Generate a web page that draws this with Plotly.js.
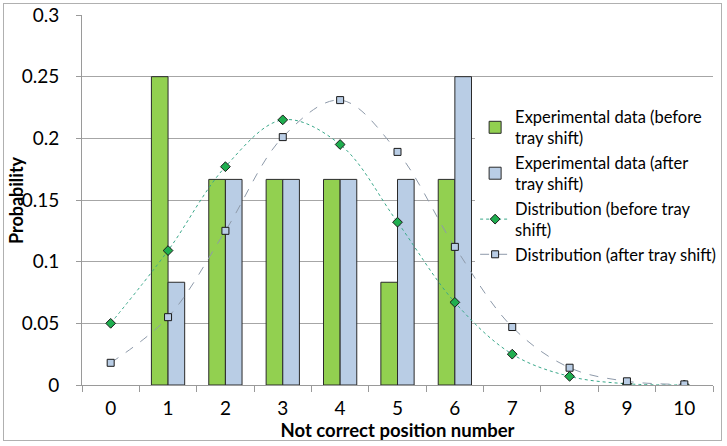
<!DOCTYPE html>
<html>
<head>
<meta charset="utf-8">
<script src="https://cdn.plot.ly/plotly-3.0.1.min.js"></script>
<style>
html,body{margin:0;padding:0;background:#fff;}
#wrap{position:absolute;left:3px;top:3px;width:719px;height:438px;border:1.5px solid #b0b0b0;box-sizing:border-box;}
#chart{position:absolute;left:0;top:0;width:727px;height:446px;}
</style>
</head>
<body>
<div id="wrap"></div>
<div id="chart"></div>
<script>
var categories = ['0','1','2','3','4','5','6','7','8','9','10'];
var expBefore = [0, 0.25, 0.1667, 0.1667, 0.1667, 0.0833, 0.1667, 0, 0, 0, 0];
var expAfter  = [0, 0.0833, 0.1667, 0.1667, 0.1667, 0.1667, 0.25, 0, 0, 0, 0];
var distBefore = [0.050, 0.109, 0.177, 0.215, 0.195, 0.132, 0.067, 0.025, 0.007, 0.001, 0.0001];
var distAfter  = [0.018, 0.055, 0.125, 0.201, 0.231, 0.189, 0.112, 0.047, 0.014, 0.003, 0.0005];
var seriesNames = ['Experimental data (before<br>tray shift)', 'Experimental data (after<br>tray shift)', 'Distribution (before tray<br>shift)', 'Distribution (after tray shift)'];
var xTitle = 'Not correct position number';
var yTitle = 'Probability';

function hideZero(arr){ return arr.map(function(v){ return v === 0 ? null : v; }); }

var traces = [
  {type:'bar', x:categories, y:hideZero(expBefore), name:seriesNames[0],
   marker:{color:'#92d050', line:{color:'#2a2a2a', width:1}}},
  {type:'bar', x:categories, y:hideZero(expAfter), name:seriesNames[1],
   marker:{color:'#b9cde5', line:{color:'#2a2a2a', width:1}}},
  {type:'scatter', mode:'lines+markers', x:categories, y:distBefore, name:seriesNames[2],
   line:{color:'#3aa88a', width:1, dash:'dot', shape:'spline'},
   marker:{symbol:'diamond', size:7.5, color:'#1fae4f', line:{color:'#1a1a1a', width:1}}},
  {type:'scatter', mode:'lines+markers', x:categories, y:distAfter, name:seriesNames[3],
   line:{color:'#8e9aaa', width:1, dash:'dash', shape:'spline'},
   marker:{symbol:'square', size:7, color:'#b9cde5', line:{color:'#1a1a1a', width:1}}}
];

var layout = {
  width:727, height:446,
  paper_bgcolor:'rgba(0,0,0,0)', plot_bgcolor:'rgba(0,0,0,0)',
  margin:{l:82, r:14, t:15, b:61, autoexpand:false},
  font:{family:'Lato, Carlito, "Open Sans", sans-serif', size:17, color:'#000'},
  barmode:'group', bargap:0.42, bargroupgap:0,
  showlegend:true,
  legend:{x:0.623, y:0.772, xanchor:'left', yanchor:'top', bgcolor:'#ffffff',
          font:{size:16.5}, tracegroupgap:0, traceorder:'normal', itemwidth:30},
  xaxis:{type:'category', range:[-0.5, 10.5], automargin:false,
         showgrid:false, showline:true, linecolor:'#9a9a9a', linewidth:1,
         ticks:'outside', tickson:'boundaries', ticklen:6, tickcolor:'#9a9a9a',
         tickfont:{size:19}, zeroline:false, ticklabelstandoff:6,
         title:{text:'<b>' + xTitle + '</b>', font:{size:18.5}, standoff:5}},
  yaxis:{range:[0,0.3], dtick:0.05, automargin:false,
         showgrid:true, gridcolor:'#a6a6a6', gridwidth:1,
         showline:true, linecolor:'#9a9a9a', linewidth:1, ticks:'outside', ticklen:5,
         tickcolor:'#9a9a9a', zeroline:false, tickfont:{size:19}, ticklabelstandoff:13},
  annotations:[{text:'<b>' + yTitle + '</b>', xref:'paper', yref:'paper', x:-0.1045, y:0.5,
                xanchor:'center', yanchor:'middle', textangle:-90, showarrow:false,
                font:{size:18}}]
};

Plotly.newPlot('chart', traces, layout, {displayModeBar:false, staticPlot:true});
</script>
</body>
</html>
